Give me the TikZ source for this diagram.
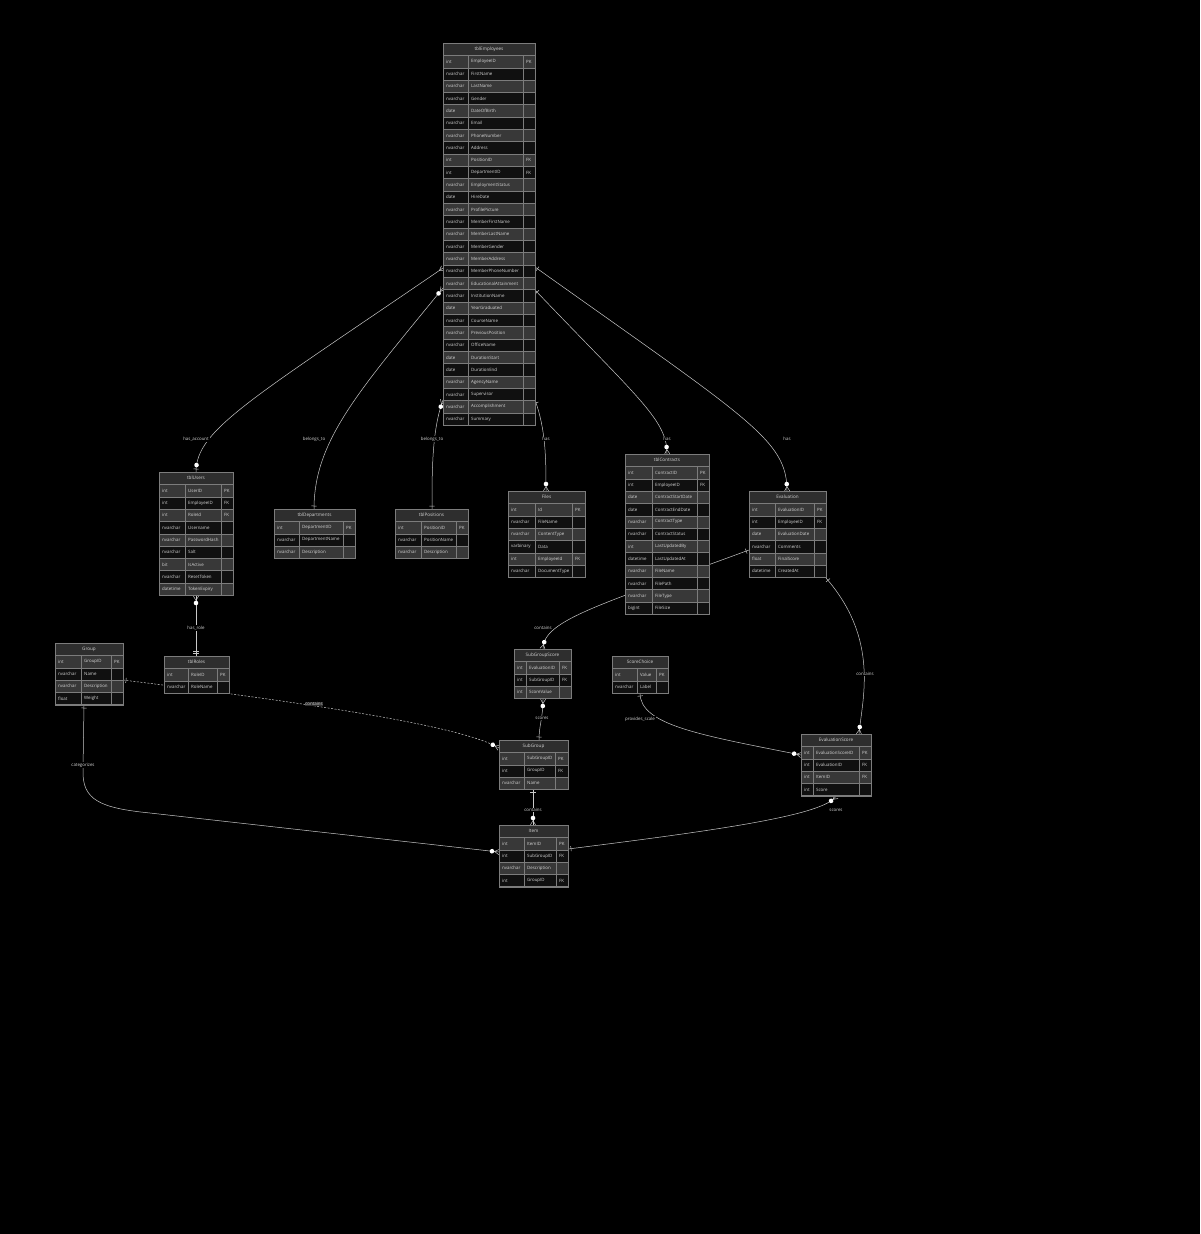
\documentclass[tikz,border=0pt]{standalone}
\usepackage{fontspec}
\setmainfont{Open Sans}
\usetikzlibrary{decorations.markings}
\definecolor{hdrfill}{HTML}{2E2E2E}
\definecolor{oddfill}{HTML}{383838}
\definecolor{evenfill}{HTML}{101010}
\definecolor{gridc}{HTML}{7C7C7C}
\definecolor{txtc}{HTML}{D4D4D4}
\definecolor{linec}{HTML}{C8C8C8}
\pgfdeclarelayer{back}
\pgfdeclarelayer{links}
\pgfsetlayers{back,links,main}
\def\ERhh{12.4}
\def\ERrh{12.33}
\tikzset{
  ttl/.style={font=\fontsize{4.6}{5}\selectfont, text=txtc, inner sep=0pt},
  celltxt/.style={font=\fontsize{4.4}{5}\selectfont, text=txtc, anchor=west, inner sep=0pt},
  cellln/.style={draw=gridc, line width=0.45pt},
  tabnode/.style={draw=gridc, line width=0.5pt, inner sep=0pt, outer sep=0pt, rectangle},
  lbl/.style={font=\fontsize{4.4}{5}\selectfont, text=txtc, fill=black, inner sep=0.8pt},
  conn/.style={draw=linec, line width=0.5pt},
  dashpat/.style={dash pattern=on 2pt off 1.5pt},
  dotE/.style={postaction={decorate,decoration={markings,mark=at position -7pt with {\fill[white,solid] (0pt,0pt) circle (2.3pt);}}}},
  dotS/.style={postaction={decorate,decoration={markings,mark=at position 7pt with {\fill[white,solid] (0pt,0pt) circle (2.3pt);}}}},
  crowE/.style={postaction={decorate,decoration={markings,mark=at position -4.5pt with {\draw[linec,line width=0.5pt,solid] (0pt,0pt) -- (4.5pt,2.6pt) (0pt,0pt) -- (4.5pt,-2.6pt);}}}},
  crowS/.style={postaction={decorate,decoration={markings,mark=at position 4.5pt with {\draw[linec,line width=0.5pt,solid] (0pt,0pt) -- (-4.5pt,2.6pt) (0pt,0pt) -- (-4.5pt,-2.6pt);}}}},
  barE/.style={postaction={decorate,decoration={markings,mark=at position -3pt with {\draw[linec,line width=0.5pt,solid] (0pt,-2.6pt) -- (0pt,2.6pt);}}}},
  barS/.style={postaction={decorate,decoration={markings,mark=at position 3pt with {\draw[linec,line width=0.5pt,solid] (0pt,-2.6pt) -- (0pt,2.6pt);}}}},
  dbarE/.style={postaction={decorate,decoration={markings,mark=at position -3.5pt with {\draw[linec,line width=0.5pt,solid] (1pt,-2.6pt) -- (1pt,2.6pt) (-1pt,-2.6pt) -- (-1pt,2.6pt);}}}},
}
% #1 name, #2 x, #3 y, #4 divider a, #5 divider b, #6 width, #7 title, #8 rows
\newcommand{\ertab}[8]{%
  \def\ERx{#2}\def\ERy{#3}\def\ERa{#4}\def\ERb{#5}\def\ERw{#6}%
  \fill[hdrfill] (\ERx,\ERy) rectangle ++(\ERw,\ERhh);
  \draw[cellln] (\ERx,\ERy) rectangle ++(\ERw,\ERhh);
  \node[ttl] at (\ERx+\ERw/2,\ERy+\ERhh/2) {#7};
  \foreach [count=\ERi] \ERt/\ERm/\ERk in {#8}{%
    \pgfmathsetmacro\ERyy{\ERy+\ERhh+(\ERi-1)*\ERrh}%
    \ifodd\ERi\relax \fill[oddfill] (\ERx,\ERyy) rectangle ++(\ERw,\ERrh);\else \fill[evenfill] (\ERx,\ERyy) rectangle ++(\ERw,\ERrh);\fi
    \draw[cellln] (\ERx,\ERyy) rectangle ++(\ERw,\ERrh);
    \draw[cellln] (\ERx+\ERa,\ERyy) -- ++(0,\ERrh);
    \draw[cellln] (\ERx+\ERb,\ERyy) -- ++(0,\ERrh);
    \node[celltxt] at (\ERx+3,\ERyy+\ERrh/2) {\ERt};
    \node[celltxt] at (\ERx+\ERa+3,\ERyy+\ERrh/2) {\ERm};
    \node[celltxt] at (\ERx+\ERb+3,\ERyy+\ERrh/2) {\ERk};
    \xdef\ERn{\ERi}%
  }%
  \pgfmathsetmacro\ERh{\ERhh+\ERn*\ERrh}%
  \node[tabnode,minimum width=\ERw pt,minimum height=\ERh pt,anchor=north west] (#1) at (\ERx,\ERy) {};
}
\begin{document}
\begin{tikzpicture}[x=1pt,y=-1pt]
\useasboundingbox (0,0) rectangle (1200,1234);
\begin{pgfonlayer}{back}
\fill[black] (0,0) rectangle (1200,1234);
\end{pgfonlayer}

\ertab{emp}{443}{43}{25}{80}{92}{tblEmployees}{int/EmployeeID/PK,
nvarchar/FirstName/{},nvarchar/LastName/{},nvarchar/Gender/{},date/DateOfBirth/{},
nvarchar/Email/{},nvarchar/PhoneNumber/{},nvarchar/Address/{},int/PositionID/FK,
int/DepartmentID/FK,nvarchar/EmploymentStatus/{},date/HireDate/{},nvarchar/ProfilePicture/{},
nvarchar/MemberFirstName/{},nvarchar/MemberLastName/{},nvarchar/MemberGender/{},
nvarchar/MemberAddress/{},nvarchar/MemberPhoneNumber/{},nvarchar/EducationalAttainment/{},
nvarchar/InstitutionName/{},date/YearGraduated/{},nvarchar/CourseName/{},
nvarchar/PreviousPosition/{},nvarchar/OfficeName/{},date/DurationStart/{},date/DurationEnd/{},
nvarchar/AgencyName/{},nvarchar/Supervisor/{},nvarchar/Accomplishment/{},nvarchar/Summary/{}}

\ertab{users}{159}{472}{26}{62}{74}{tblUsers}{int/UserID/PK,int/EmployeeID/FK,int/RoleId/FK,
nvarchar/Username/{},nvarchar/PasswordHash/{},nvarchar/Salt/{},bit/IsActive/{},
nvarchar/ResetToken/{},datetime/TokenExpiry/{}}

\ertab{dept}{274}{509}{25}{69}{81}{tblDepartments}{int/DepartmentID/PK,nvarchar/DepartmentName/{},nvarchar/Description/{}}

\ertab{pos}{395}{509}{26}{61}{73}{tblPositions}{int/PositionID/PK,nvarchar/PositionName/{},nvarchar/Description/{}}

\ertab{files}{508}{491}{27}{64}{77}{Files}{int/Id/PK,nvarchar/FileName/{},nvarchar/ContentType/{},
varbinary/Data/{},int/EmployeeId/FK,nvarchar/DocumentType/{}}

\ertab{contracts}{625}{454}{27}{72}{84}{tblContracts}{int/ContractID/PK,int/EmployeeID/FK,
date/ContractStartDate/{},date/ContractEndDate/{},nvarchar/ContractType/{},nvarchar/ContractStatus/{},
int/LastUpdatedBy/{},datetime/LastUpdatedAt/{},nvarchar/FileName/{},nvarchar/FilePath/{},
nvarchar/FileType/{},bigint/FileSize/{}}

\ertab{eval}{749}{491}{26}{65}{77}{Evaluation}{int/EvaluationID/PK,int/EmployeeID/FK,
date/EvaluationDate/{},nvarchar/Comments/{},float/FinalScore/{},datetime/CreatedAt/{}}

\ertab{group}{55}{643}{26}{56}{68}{Group}{int/GroupID/PK,nvarchar/Name/{},nvarchar/Description/{},float/Weight/{}}

\ertab{roles}{164}{656}{24}{53}{65}{tblRoles}{int/RoleID/PK,nvarchar/RoleName/{}}

\ertab{sgs}{514}{649}{12}{45}{57}{SubGroupScore}{int/EvaluationID/FK,int/SubGroupID/FK,int/ScoreValue/{}}

\ertab{sc}{612}{656}{25}{44}{56}{ScoreChoice}{int/Value/PK,nvarchar/Label/{}}

\ertab{sg}{499}{740}{25}{56}{69}{SubGroup}{int/SubGroupID/PK,int/GroupID/FK,nvarchar/Name/{}}

\ertab{es}{801}{734}{12}{58}{70}{EvaluationScore}{int/EvaluationScoreID/PK,int/EvaluationID/FK,int/ItemID/FK,int/Score/{}}

\ertab{item}{499}{825}{25}{57}{69}{Item}{int/ItemID/PK,int/SubGroupID/FK,nvarchar/Description/{},int/GroupID/FK}

\begin{pgfonlayer}{links}
\draw[conn,crowS,barE,dotE] ([yshift=-225pt]emp.north west) .. controls (250,400) and (196,430) .. ([xshift=37pt]users.north west);
\draw[conn,crowS,dotS,barE] ([yshift=-245pt]emp.north west) .. controls (360,390) and (314,440) .. ([xshift=40pt]dept.north west);
\draw[conn,crowS,dotS,barE] ([yshift=-357pt]emp.north west) .. controls (432,430) and (432,470) .. ([xshift=37pt]pos.north west);
\draw[conn,barS,crowE,dotE] ([xshift=92pt,yshift=-357pt]emp.north west) .. controls (546,430) and (546,460) .. ([xshift=38pt]files.north west);
\draw[conn,barS,crowE,dotE] ([xshift=92pt,yshift=-247pt]emp.north west) .. controls (640,400) and (667,420) .. ([xshift=42pt]contracts.north west);
\draw[conn,barS,crowE,dotE] ([xshift=92pt,yshift=-224pt]emp.north west) .. controls (750,420) and (787,440) .. ([xshift=38pt]eval.north west);
\draw[conn,crowS,dotS,dbarE] ([xshift=37pt,yshift=-124pt]users.north west) -- ([xshift=32pt]roles.north west);
\draw[conn,barS,crowE,dotE] ([yshift=-59pt]eval.north west) .. controls (600,605) and (543,620) .. ([xshift=29pt]sgs.north west);
\draw[conn,barS,crowE,dotE] ([xshift=77pt,yshift=-87pt]eval.north west) .. controls (880,640) and (862,700) .. ([xshift=58pt]es.north west);
\draw[conn,crowS,dotS,barE] ([xshift=29pt,yshift=-50pt]sgs.north west) .. controls (543,718) and (539,725) .. ([xshift=40pt]sg.north west);
\draw[conn,barS,crowE,dotE] ([xshift=28pt,yshift=-37pt]sc.north west) .. controls (640,725) and (700,735) .. ([yshift=-21pt]es.north west);
\draw[conn,dashpat,barS,crowE,dotE] ([xshift=68pt,yshift=-37pt]group.north west) .. controls (300,702) and (460,725) .. ([yshift=-8pt]sg.north west);
\draw[conn,barS,crowE,dotE] ([xshift=34pt,yshift=-49pt]sg.north west) -- ([xshift=34pt]item.north west);
\draw[conn,barS,crowE,dotE] ([xshift=29pt,yshift=-62pt]group.north west) -- (83,770) .. controls (82,800) and (100,808) .. (150,813) -- ([yshift=-27pt]item.north west);
\draw[conn,crowS,dotS,barE] ([xshift=35pt,yshift=-62pt]es.north west) .. controls (825,815) and (720,830) .. ([xshift=69pt,yshift=-24pt]item.north west);

\node[lbl] (l1) at (196,439) {has\_account};
\node[lbl] (l2) at (314,439) {belongs\_to};
\node[lbl] (l3) at (432,439) {belongs\_to};
\node[lbl] (l4) at (546,439) {has};
\node[lbl] (l5) at (667,439) {has};
\node[lbl] (l6) at (787,439) {has};
\node[lbl] (l7) at (196,628) {has\_role};
\node[lbl] (l8) at (543,628) {contains};
\node[lbl] (l9) at (865,674) {contains};
\node[lbl] (l10) at (542,718) {scores};
\node[lbl] (l11) at (640,719) {provides\_scale};
\node[lbl,fill=hdrfill] (l12) at (314,704) {contains};
\node[lbl] (l13) at (533,810) {contains};
\node[lbl] (l14) at (83,765) {categorizes};
\node[lbl] (l15) at (836,810) {scores};
\end{pgfonlayer}
\end{tikzpicture}
\end{document}
